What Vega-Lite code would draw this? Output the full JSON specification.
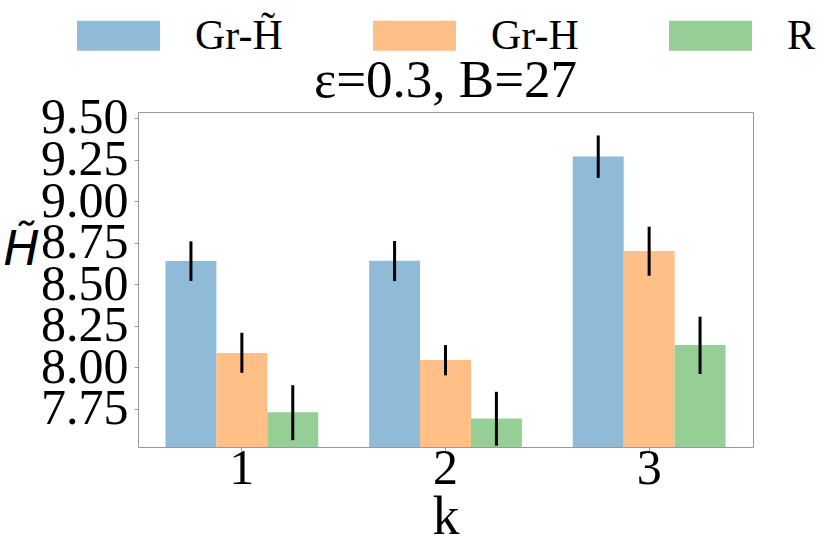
{
  "$schema": "https://vega.github.io/schema/vega-lite/v6.json",
  "width": 615,
  "height": 335,
  "autosize": "none",
  "padding": {"left": 138, "top": 112, "right": 78, "bottom": 101},
  "background": "white",
  "title": {
    "text": "ε=0.3, B=27",
    "font": "Liberation Serif",
    "fontSize": 53,
    "fontWeight": "normal",
    "color": "black",
    "offset": 8,
    "dy": 122
  },
  "data": {
    "values": [
      {"k": "1", "s": "Gr-H̃", "v": 8.64, "lo": 8.52, "hi": 8.758},
      {"k": "1", "s": "Gr-H", "v": 8.086, "lo": 7.967, "hi": 8.208},
      {"k": "1", "s": "R", "v": 7.73, "lo": 7.562, "hi": 7.893},
      {"k": "2", "s": "Gr-H̃", "v": 8.641, "lo": 8.519, "hi": 8.76},
      {"k": "2", "s": "Gr-H", "v": 8.044, "lo": 7.952, "hi": 8.134},
      {"k": "2", "s": "R", "v": 7.692, "lo": 7.529, "hi": 7.853},
      {"k": "3", "s": "Gr-H̃", "v": 9.268, "lo": 9.14, "hi": 9.395},
      {"k": "3", "s": "Gr-H", "v": 8.7, "lo": 8.551, "hi": 8.846},
      {"k": "3", "s": "R", "v": 8.134, "lo": 7.96, "hi": 8.305}
    ]
  },
  "encoding": {
    "x": {
      "field": "k", "type": "nominal", "title": "k",
      "scale": {"paddingInner": 0.25, "paddingOuter": 0.135},
      "axis": {
        "labelAngle": 0, "labelFont": "Liberation Serif", "labelFontSize": 50,
        "labelColor": "black", "titleFont": "Liberation Serif", "titleFontSize": 54,
        "titleFontWeight": "normal", "titleColor": "black", "tickColor": "#999",
        "tickSize": 4, "domain": false, "labelPadding": -8, "titlePadding": -3
      }
    },
    "xOffset": {
      "field": "s", "type": "nominal",
      "sort": ["Gr-H̃", "Gr-H", "R"],
      "scale": {"paddingInner": 0, "paddingOuter": 0}
    }
  },
  "layer": [
    {
      "mark": {"type": "bar", "clip": true},
      "encoding": {
        "y": {
          "field": "v", "type": "quantitative", "title": "H̃",
          "scale": {"domain": [7.521, 9.536], "zero": false, "nice": false},
          "axis": {
            "values": [7.75, 8.0, 8.25, 8.5, 8.75, 9.0, 9.25, 9.5],
            "format": ".2f", "grid": false, "domain": false, "labelOverlap": false,
            "labelFont": "Liberation Serif", "labelFontSize": 50, "labelColor": "black",
            "tickColor": "#999", "tickSize": 4, "labelPadding": 6,
            "titleFont": "DejaVu Sans", "titleFontStyle": "italic", "titleFontSize": 48,
            "titleFontWeight": "normal", "titleColor": "black", "titleAngle": 0,
            "titleAlign": "center", "titleBaseline": "middle", "titleX": -117, "titleY": 138
          }
        },
        "color": {
          "field": "s", "type": "nominal",
          "sort": ["Gr-H̃", "Gr-H", "R"],
          "scale": {"domain": ["Gr-H̃", "Gr-H", "R"], "range": ["#8fbbd9", "#ffbf86", "#95cf95"]},
          "legend": {
            "title": null, "orient": "none", "legendX": -61, "legendY": -118,
            "direction": "horizontal", "columns": 3, "gridAlign": "all",
            "columnPadding": 90, "padding": 0,
            "symbolType": "M-1,-0.36H1V0.36H-1Z", "symbolSize": 6889,
            "symbolStrokeWidth": 0, "symbolOpacity": 1,
            "labelFont": "Liberation Serif", "labelFontSize": 42, "labelColor": "black",
            "labelOffset": 35, "labelLimit": 300
          }
        }
      }
    },
    {
      "mark": {"type": "rule", "color": "black", "strokeWidth": 3},
      "encoding": {
        "y": {"field": "lo", "type": "quantitative"},
        "y2": {"field": "hi"}
      }
    }
  ],
  "config": {
    "view": {"stroke": "#999", "strokeWidth": 1}
  }
}
